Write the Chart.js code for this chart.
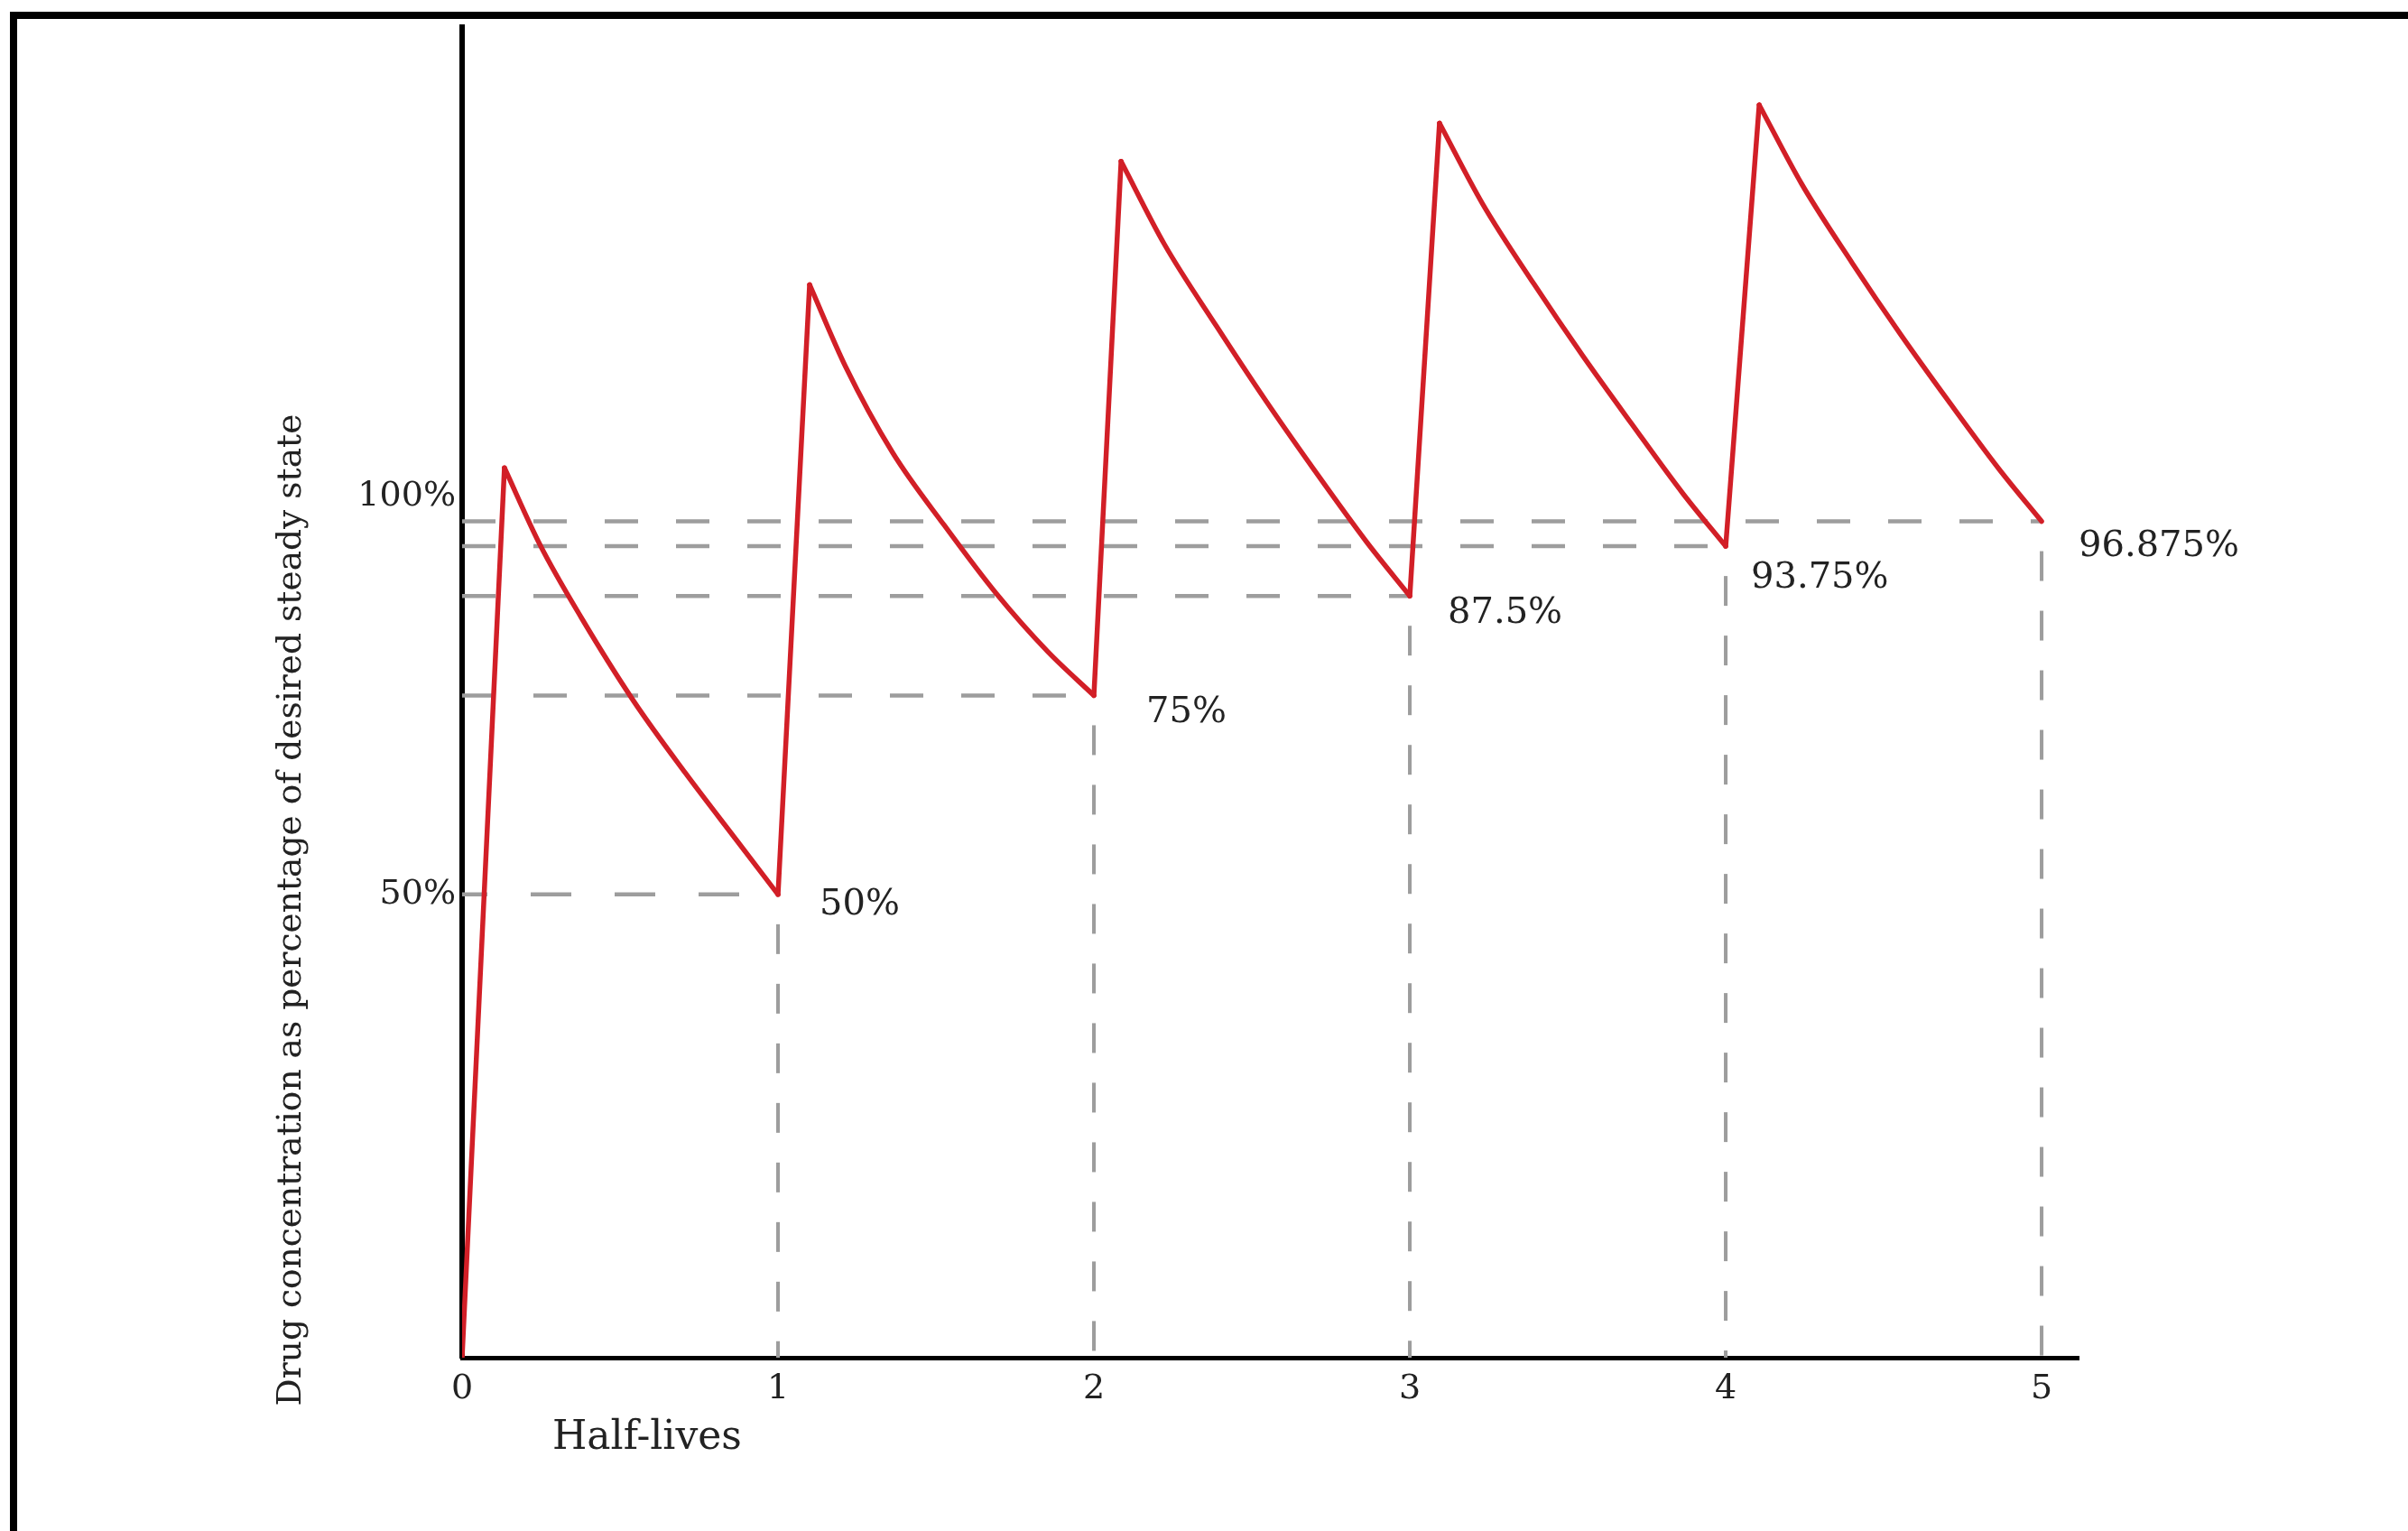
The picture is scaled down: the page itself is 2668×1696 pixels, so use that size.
<!DOCTYPE html>
<html>
<head>
<meta charset="utf-8">
<title>Drug concentration over half-lives</title>
<script src="https://cdn.jsdelivr.net/npm/chart.js@4.4.1/dist/chart.umd.min.js"></script>
<style>
  html, body { margin: 0; padding: 0; background: #fff; }
  #wrap { width: 2668px; height: 1696px; }
</style>
</head>
<body>
<div id="wrap"><canvas id="doseChart" width="2668" height="1696"></canvas></div>
<script>
// ==============================
// DATA
// x = half-lives, y = % of desired steady state.
// The drawing is a sketch: its baseline sits a bit under 0% on its own scale.
// ==============================
const halfLives = [0, 1, 2, 3, 4, 5];
const yTicks = [50, 100];
const startLevel = -8.2;

const troughTimes = [1, 2, 3, 4, 5];
const troughLevels = [50, 75, 87.5, 93.75, 96.875];
const troughLabels = ["50%", "75%", "87.5%", "93.75%", "96.875%"];

const peakTimes = [0.134, 1.1, 2.086, 3.094, 4.106];
const peakLevels = [103.6, 126.6, 142.1, 146.9, 149.2];

// points (peak -> next trough)
const decayTimes = [
  [0.247, 0.377, 0.543, 0.706, 0.871],
  [1.214, 1.363, 1.526, 1.691, 1.854],
  [2.223, 2.388, 2.543, 2.698, 2.863],
  [3.23, 3.393, 3.547, 3.701, 3.864],
  [4.24, 4.401, 4.553, 4.705, 4.866],
];
const decayLevels = [
  [93.9, 84.8, 74.3, 65.3, 56.7],
  [116.3, 105.5, 96.4, 87.8, 80.5],
  [131.7, 121.4, 112.1, 103.3, 94.3],
  [136.8, 126.7, 117.7, 109.2, 100.4],
  [139.3, 129.3, 120.4, 112.0, 103.4],
];

const X_TITLE = "Half-lives";
const Y_TITLE = "Drug concentration as percentage of desired steady state";

// ==============================
// STYLE
// ==============================
const RED = "#d21f27";
const GREY = "#9d9d9d";
const INK = "#222222";
const SERIF = "'DejaVu Serif', 'Liberation Serif', serif";
// label offsets from each trough point (px)
const labelDx = [46, 58, 42, 28, 41];
const labelDy = [12, 19, 19, 36, 28];

// ==============================
// DATASETS
// ==============================
const datasets = [];

for (let i = 0; i < peakTimes.length; i++) {
  const fromX = i === 0 ? 0 : troughTimes[i - 1];
  const fromY = i === 0 ? startLevel : troughLevels[i - 1];

  // dose: straight rise
  datasets.push({
    data: [{ x: fromX, y: fromY }, { x: peakTimes[i], y: peakLevels[i] }],
    borderColor: RED,
    borderWidth: 5.5,
    borderCapStyle: "round",
    tension: 0,
    pointRadius: 0,
    order: 1,
  });

  // elimination: smooth decay
  const pts = [{ x: peakTimes[i], y: peakLevels[i] }];
  decayTimes[i].forEach((t, k) => pts.push({ x: t, y: decayLevels[i][k] }));
  pts.push({ x: troughTimes[i], y: troughLevels[i] });
  datasets.push({
    data: pts,
    borderColor: RED,
    borderWidth: 5.5,
    borderCapStyle: "round",
    cubicInterpolationMode: "monotone",
    pointRadius: 0,
    order: 1,
  });
}

// guide lines to each trough
troughTimes.forEach((t, i) => {
  datasets.push({
    data: [{ x: 0, y: troughLevels[i] }, { x: t, y: troughLevels[i] }],
    borderColor: GREY,
    borderWidth: 4.5,
    borderDash: i === 0 ? [45, 48] : [37, 42],
    borderDashOffset: i === 0 ? 17 : 0,
    pointRadius: 0,
    order: 2,
  });
  datasets.push({
    data: [{ x: t, y: troughLevels[i] }, { x: t, y: startLevel }],
    borderColor: GREY,
    borderWidth: 4,
    borderDash: [33, 33],
    borderDashOffset: 33,
    pointRadius: 0,
    order: 2,
  });
});

// ==============================
// PLUGINS: frame + free text
// ==============================
const framePlugin = {
  id: "frame",
  beforeDraw(chart) {
    const c = chart.ctx;
    c.save();
    c.fillStyle = "#fff";
    c.fillRect(0, 0, chart.width, chart.height);
    c.strokeStyle = "#000";
    c.lineWidth = 8;
    c.beginPath();
    c.moveTo(15, chart.height + 10);
    c.lineTo(15, 17);
    c.lineTo(chart.width + 10, 17);
    c.stroke();
    c.restore();
  },
};

const textPlugin = {
  id: "texts",
  afterDraw(chart) {
    const c = chart.ctx;
    const xs = chart.scales.x;
    const ys = chart.scales.y;
    c.save();
    c.fillStyle = INK;

    // trough values
    c.font = "40px " + SERIF;
    c.textAlign = "left";
    c.textBaseline = "middle";
    troughTimes.forEach((t, i) => {
      const px = xs.getPixelForValue(t) + labelDx[i];
      const py = ys.getPixelForValue(troughLevels[i]) + labelDy[i];
      c.fillText(troughLabels[i], px, py);
    });

    // x title (left of centre, as in the sketch)
    c.font = "44px " + SERIF;
    c.textBaseline = "alphabetic";
    c.fillText(X_TITLE, 612, 1605);

    // y title, fitted to its length in the sketch
    let size = 36;
    c.font = size + "px " + SERIF;
    size = size * 1098 / c.measureText(Y_TITLE).width;
    c.font = size.toFixed(1) + "px " + SERIF;
    c.translate(323, 1008);
    c.rotate(-Math.PI / 2);
    c.textAlign = "center";
    c.textBaseline = "middle";
    c.fillText(Y_TITLE, 0, 0);
    c.restore();
  },
};

// ==============================
// CHART
// ==============================
const chart = new Chart(document.getElementById("doseChart"), {
  type: "line",
  data: { datasets },
  options: {
    responsive: false,
    animation: false,
    devicePixelRatio: 1,
    layout: { padding: { top: 17, right: 365, left: 0, bottom: 0 } },
    plugins: { legend: { display: false }, tooltip: { enabled: false } },
    scales: {
      x: {
        type: "linear",
        min: 0,
        max: 5.117,
        afterBuildTicks: (s) => { s.ticks = halfLives.map((v) => ({ value: v })); },
        afterFit: (s) => { s.height = 192; },
        grid: { display: false, drawTicks: false },
        border: { display: true, color: "#000", width: 5 },
        ticks: { color: INK, font: { family: SERIF, size: 38 }, padding: 12 },
      },
      y: {
        type: "linear",
        min: startLevel,
        max: 159,
        afterBuildTicks: (s) => { s.ticks = yTicks.map((v) => ({ value: v })); },
        afterFit: (s) => { s.width = 512; },
        grid: { display: false, drawTicks: false },
        border: { display: true, color: "#000", width: 6 },
        ticks: {
          color: INK,
          font: { family: SERIF, size: 38 },
          padding: 7,
          callback: (v) => v + "%",
        },
      },
    },
  },
  plugins: [framePlugin, textPlugin],
});
</script>
</body>
</html>
